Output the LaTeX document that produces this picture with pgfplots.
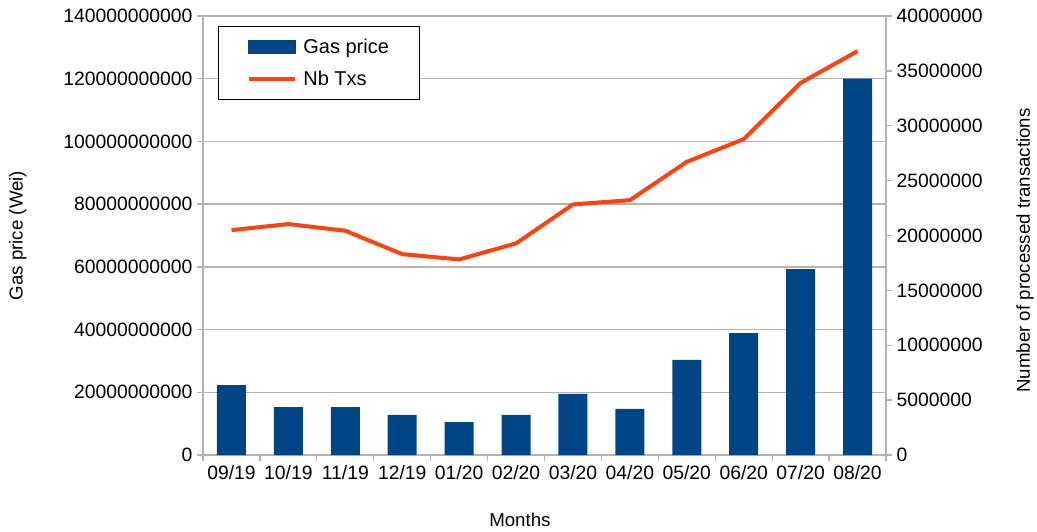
\documentclass[border=0pt]{standalone}
\usepackage{fontspec}
\setmainfont{Liberation Sans}
\usepackage{pgfplots}
\usepackage{pgfplotstable}
\pgfplotsset{compat=1.18}
\definecolor{gasblue}{HTML}{004586}
\definecolor{txorange}{HTML}{FF420E}
\definecolor{axgray}{HTML}{B3B3B3}

% month index, gas price (Wei), number of processed transactions
\pgfplotstableread{
x  gas      txs
0  22.3e9   20.49e6
1  15.3e9   21.04e6
2  15.3e9   20.43e6
3  12.76e9  18.30e6
4  10.5e9   17.82e6
5  12.76e9  19.28e6
6  19.5e9   22.83e6
7  14.7e9   23.22e6
8  30.3e9   26.71e6
9  38.9e9   28.78e6
10 59.3e9   33.90e6
11 120e9    36.80e6
}\data

\begin{document}
\begin{tikzpicture}[font=\fontsize{14.5}{17}\selectfont]
\pgfplotsset{
  common/.style={
    width=512.25pt, height=329.25pt, scale only axis,
    xmin=-0.5, xmax=11.5,
    scaled y ticks=false,
    tick align=outside,
    major tick length=4.5pt, minor tick length=4.5pt,
    tick style={axgray, line width=1pt},
    axis line style={axgray, line width=1pt, -},
    /pgf/number format/assume math mode=true,
    ticklabel style={font=\fontsize{14.5}{17}\selectfont},
    label style={font=\fontsize{14}{17}\selectfont},
  }
}
\begin{axis}[
  common, name=ax,
  ymin=0, ymax=140e9,
  axis x line*=bottom, axis y line*=left,
  ytick={0,20e9,40e9,60e9,80e9,100e9,120e9,140e9},
  yticklabels={0,20000000000,40000000000,60000000000,80000000000,100000000000,120000000000,140000000000},
  xtick={0,...,11},
  xticklabels={09/19,10/19,11/19,12/19,01/20,02/20,03/20,04/20,05/20,06/20,07/20,08/20},
  major x tick style={draw=none},
  minor xtick={-0.5,0.5,...,11.5},
  ymajorgrids, grid style={axgray, line width=1pt},
  xlabel={Months},
  xlabel style={at={(axis description cs:0.464,-0.148)}, anchor=center},
  ylabel={Gas price (Wei)},
  ylabel style={at={(axis description cs:-0.271,0.5)}, anchor=center},
]
\addplot[ybar, bar width=21.75pt, fill=gasblue, draw=none] table[x=x, y=gas]{\data};
\end{axis}
\begin{axis}[
  common,
  ymin=0, ymax=40e6,
  axis x line=none, axis y line*=right,
  ytick={0,5e6,10e6,15e6,20e6,25e6,30e6,35e6,40e6},
  yticklabels={0,5000000,10000000,15000000,20000000,25000000,30000000,35000000,40000000},
  ylabel={Number of processed transactions},
  ylabel style={at={(axis description cs:1.2035,0.466)}, anchor=center, rotate=0},
  legend cell align=left,
  legend style={at={(axis description cs:0.022,0.977)}, anchor=north west,
    draw=black, line width=1pt, fill=white, inner xsep=21pt, inner ysep=7pt,
    row sep=8pt, font=\fontsize{15}{18}\selectfont},
]
\addlegendimage{legend image code/.code={\fill[gasblue] (0pt,-4.5pt) rectangle (35pt,4.5pt); \path[draw=none,fill=none] (0pt,0pt) -- (39pt,0pt);}}
\addlegendentry{Gas price}
\addplot[txorange, line width=3pt, line join=round, mark=none,
  legend image code/.code={\draw[txorange, line width=3pt] (0pt,0pt) -- (35pt,0pt); \path[draw=none,fill=none] (0pt,0pt) -- (39pt,0pt);}]
  table[x=x, y=txs]{\data};
\addlegendentry{Nb Txs}
\end{axis}
\pgfresetboundingbox
\path[use as bounding box] ([xshift=-152.25pt,yshift=-57pt]ax.south west) rectangle ([xshift=113.25pt,yshift=12pt]ax.north east);
\end{tikzpicture}
\end{document}
